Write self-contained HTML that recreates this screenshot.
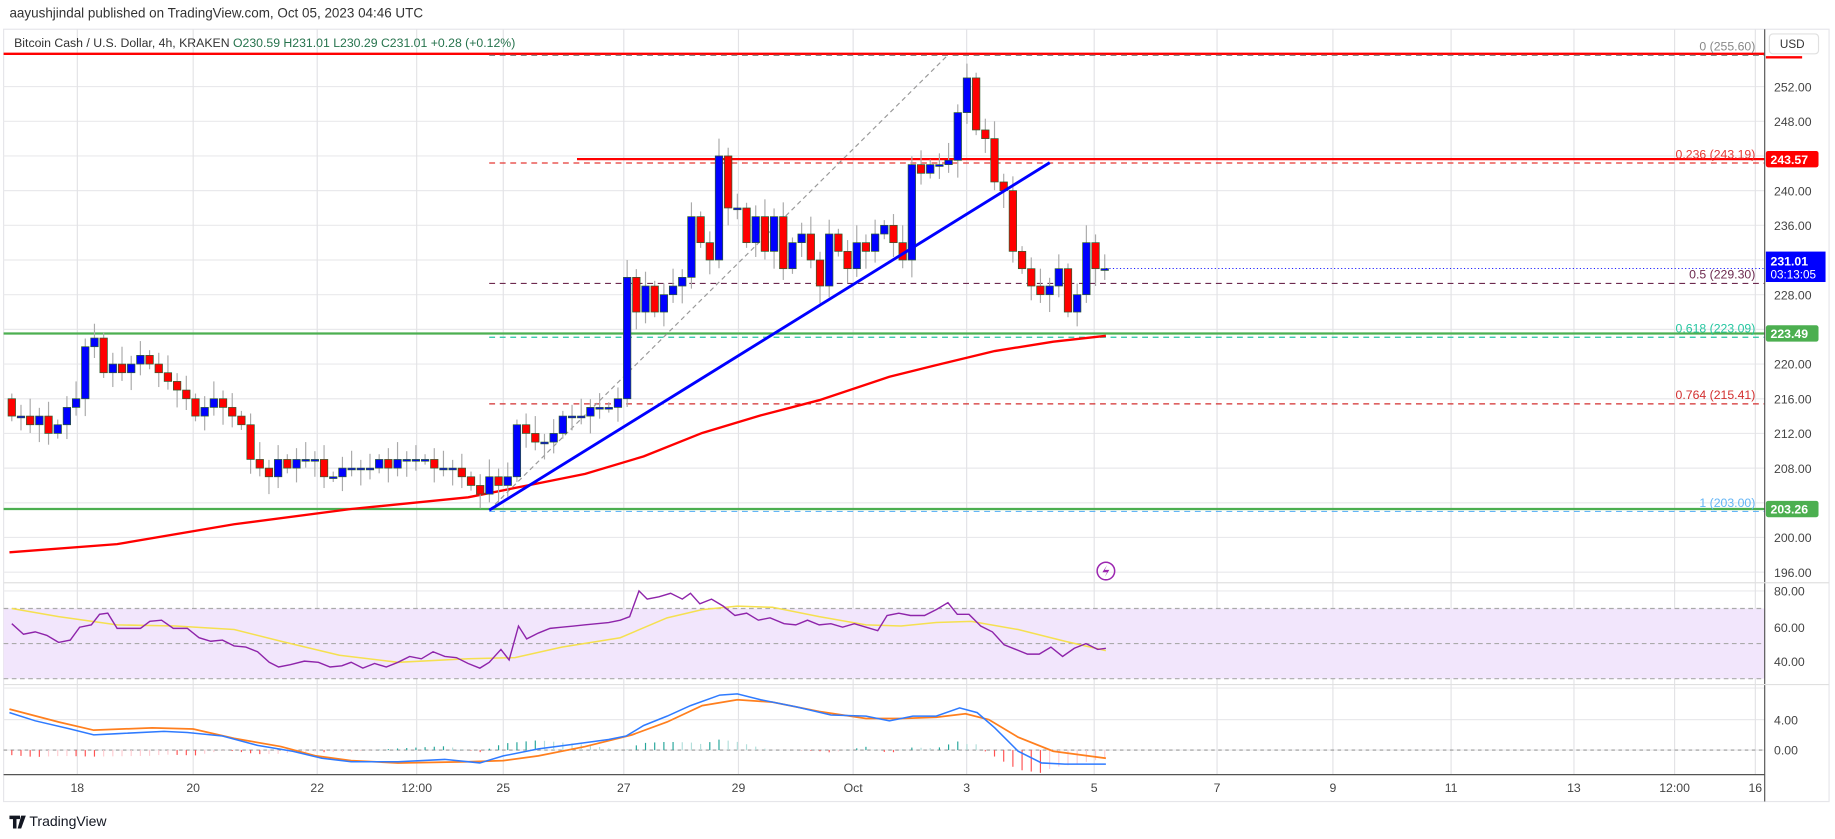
<!DOCTYPE html>
<html><head><meta charset="utf-8"><style>
html,body{margin:0;padding:0;background:#fff;width:1835px;height:839px;overflow:hidden}
svg{display:block}
text{font-family:"Liberation Sans",sans-serif}
</style></head><body>
<svg id="s" width="1835" height="839" viewBox="0 0 1568 717" xmlns="http://www.w3.org/2000/svg">
<rect x="0" y="0" width="1568" height="717" fill="#fff"/>
<text x="8" y="15" font-size="11.5" fill="#333">aayushjindal published on TradingView.com, Oct 05, 2023 04:46 UTC</text>
<rect x="3" y="25" width="1560" height="660" fill="none" stroke="#e6e6ea" stroke-width="1"/>
<g id="grid"></g>
<rect x="3" y="520" width="1505" height="60" fill="#f2e6fc"/>
<g id="main"></g>
<line x1="1508" y1="25" x2="1508" y2="685" stroke="#555" stroke-width="1"/>
<line x1="3" y1="498" x2="1563" y2="498" stroke="#e0e0e0"/>
<line x1="3" y1="585" x2="1563" y2="585" stroke="#e0e0e0"/>
<line x1="3" y1="662" x2="1508" y2="662" stroke="#555"/>
<text x="12" y="40" font-size="10.5" fill="#333">Bitcoin Cash / U.S. Dollar, 4h, KRAKEN <tspan fill="#26734d">O230.59 H231.01 L230.29 C231.01 +0.28 (+0.12%)</tspan></text>
<g id="axis" font-size="10.5" fill="#444"></g>
<rect x="1512" y="29" width="42" height="17" rx="3" fill="#fff" stroke="#e0e0e0"/>
<text x="1521" y="41" font-size="10" fill="#333">USD</text>
<circle cx="945" cy="488" r="7.5" fill="none" stroke="#9c27b0" stroke-width="1.3"/>
<path d="M946 483 L942 489 L946 489 L944 493 L948 487 L944 487 Z" fill="#9c27b0"/>
<path d="M8 697 h9 v3 h-3 v8 h-3 v-8 h-3 z M18 697 h4 l-4 11 h-3 z" fill="#131722"/>
<text x="25" y="706" font-size="12" fill="#131722">TradingView</text>
</svg>
<script>
const NS="http://www.w3.org/2000/svg";
function el(p,t,a,txt){const e=document.createElementNS(NS,t);for(const k in a)e.setAttribute(k,a[k]);if(txt!=null)e.textContent=txt;p.appendChild(e);return e;}
const grid=document.getElementById('grid'),main=document.getElementById('main'),axis=document.getElementById('axis');
const py=p=>74+(252-p)*7.41;
for(let p=196;p<=252;p+=4){el(grid,'line',{x1:3,x2:1508,y1:py(p),y2:py(p),stroke:'#e9e9ec'});}
[505,536,565].forEach(y=>el(grid,'line',{x1:3,x2:1508,y1:y,y2:y,stroke:'#e9e9ec'}));
[588,615,641].forEach(y=>el(grid,'line',{x1:3,x2:1508,y1:y,y2:y,stroke:'#e9e9ec'}));
const tl=[[66,'18'],[165,'20'],[271,'22'],[356,'12:00'],[430,'25'],[533,'27'],[631,'29'],[729,'Oct'],[826,'3'],[935,'5'],[1040,'7'],[1139,'9'],[1240,'11'],[1345,'13'],[1431,'12:00'],[1500,'16']];
tl.forEach(([x,t])=>{el(grid,'line',{x1:x,x2:x,y1:25,y2:662,stroke:'#e3e3e6'});el(axis,'text',{x:x,y:677,'text-anchor':'middle'},t);});
for(let p=196;p<=252;p+=4){if(p==204||p==232||p==224||p==244)continue;el(axis,'text',{x:1516,y:py(p)+4},p.toFixed(2));}
[[505,'80.00'],[536,'60.00'],[565,'40.00'],[615,'4.00'],[641,'0.00']].forEach(([y,t])=>el(axis,'text',{x:1516,y:y+4},t));
[520,550,580].forEach(y=>el(main,'line',{x1:3,x2:1508,y1:y,y2:y,stroke:'#aaa','stroke-dasharray':'4 3'}));
el(main,'line',{x1:3,x2:1508,y1:641,y2:641,stroke:'#999','stroke-dasharray':'3 3'});
el(main,'line',{x1:3,x2:1508,y1:46,y2:46,stroke:'#f00','stroke-width':2});
el(main,'line',{x1:493,x2:1508,y1:136,y2:136,stroke:'#f00','stroke-width':2});
el(main,'line',{x1:3,x2:1508,y1:285,y2:285,stroke:'#4caf50','stroke-width':2});
el(main,'line',{x1:3,x2:1508,y1:435,y2:435,stroke:'#4caf50','stroke-width':2});
const fib=[[255.6,'0 (255.60)','#888'],[243.19,'0.236 (243.19)','#e53935'],[229.3,'0.5 (229.30)','#6d2a4f'],[223.09,'0.618 (223.09)','#26c6a0'],[215.41,'0.764 (215.41)','#d32f2f'],[203,'1 (203.00)','#64b5f6']];
fib.forEach(([p,t,c])=>{const y=py(p);el(main,'line',{x1:418,x2:1508,y1:y,y2:y,stroke:c,'stroke-dasharray':'5 4'});el(main,'text',{x:1500,y:y-4,'text-anchor':'end','font-size':10.5,fill:c},t);});
el(main,'line',{x1:418,y1:436,x2:810,y2:47,stroke:'#999','stroke-dasharray':'4 3'});
const ma=[[8,472],[100,465],[200,448],[300,435],[400,425],[450,415],[500,405],[550,390],[600,370],[650,355],[700,342],[760,322],[800,312],[850,300],[900,292],[945,287]];
el(main,'polyline',{points:ma.map(p=>p.join(',')).join(' '),fill:'none',stroke:'#f00','stroke-width':2});
const C=[214,214,213,214,212,213,215,216,222,223,219,220,219,220,221,220,219,218,217,216,214,215,216,215,214,213,209,208,207,209,208,209,209,209,207,207,208,208,208,208,209,208,209,209,209,209,208,208,208,207,206,205,207,206,207,213,212,211,211,212,214,214,214,215,215,215,216,230,226,229,226,228,229,230,237,234,232,244,238,238,234,237,233,237,231,234,235,232,229,235,233,231,234,233,235,236,234,232,243,242,243,243,243.5,249,253,247,246,241,240,233,231,229,228,229,231,226,228,234,231,231];
let o=216;const n=C.length,dx=(944-10)/(n-1);
C.forEach((c,i)=>{const x=10+i*dx;const hi=Math.max(o,c)+0.6+((i*7)%5)*0.35,lo=Math.min(o,c)-0.6-((i*3)%5)*0.35;
el(main,'line',{x1:x,x2:x,y1:py(hi),y2:py(lo),stroke:'#aaa'});
const t=py(Math.max(o,c)),b=py(Math.min(o,c));
el(main,'rect',{x:x-3.2,y:t,width:6.4,height:Math.max(1.5,b-t),fill:c>=o?'#0000ff':'#ff0000',stroke:'#2e5d2e','stroke-width':0.6});o=c;});
el(main,'line',{x1:418,y1:436,x2:897,y2:139,stroke:'#0000ff','stroke-width':2.5});
const rsi=[[10,533],[20,542],[30,540],[40,543],[50,549],[60,547],[68,536],[78,534],[85,525],[92,524],[100,537],[110,537],[120,537],[128,531],[138,530],[148,537],[160,537],[170,545],[180,548],[190,547],[200,552],[210,553],[220,557],[230,566],[238,570],[248,568],[260,565],[272,566],[282,570],[292,569],[300,566],[310,571],[320,567],[330,570],[340,566],[350,561],[360,563],[370,557],[380,561],[390,562],[400,567],[410,571],[418,566],[428,555],[435,564],[443,535],[450,546],[460,541],[470,537],[480,536],[490,535],[500,534],[510,533],[520,532],[530,530],[538,527],[546,505],[553,512],[563,510],[573,507],[583,512],[590,507],[598,516],[608,512],[618,518],[628,526],[638,524],[648,530],[658,528],[670,533],[680,534],[690,530],[700,534],[710,533],[720,536],[730,533],[740,536],[750,539],[758,526],[768,524],[778,526],[790,526],[800,521],[810,515],[818,525],[828,525],[838,535],[848,540],[858,551],[868,555],[878,559],[888,559],[898,553],[908,561],[918,554],[928,550],[938,555],[945,554]];
const rma=[[10,520],[50,527],[100,534],[150,535],[200,538],[240,548],[290,560],[340,566],[400,563],[440,562],[480,553],[530,545],[570,528],[600,521],[630,518],[660,519],[700,527],[740,534],[770,535],[800,532],[830,531],[870,538],[910,548],[945,556]];
el(main,'polyline',{points:rma.map(p=>p.join(',')).join(' '),fill:'none',stroke:'#f5e050','stroke-width':1.3});
el(main,'polyline',{points:rsi.map(p=>p.join(',')).join(' '),fill:'none',stroke:'#8e24aa','stroke-width':1.2});
const mb=[[8,609],[30,616],[60,623],[80,628],[100,627],[140,625],[160,626],[190,629],[220,637],[250,642],[275,648],[300,651],[340,651],[380,649],[410,652],[430,646],[460,640],[490,636],[520,632],[535,629],[550,620],[570,612],[590,603],[615,594],[630,593],[650,598],[680,604],[710,611],[740,612],[760,616],[780,612],[800,612],[820,605],[835,609],[850,622],[870,642],[890,652],[910,653],[945,653]];
const mo=[[8,606],[50,617],[80,624],[130,622],[165,623],[200,631],[240,638],[270,646],[300,650],[340,652],[400,651],[430,650],[460,646],[500,638],[540,628],[570,617],[600,603],[630,598],[660,600],[700,608],[740,614],[770,614],[800,613],[825,610],[845,615],[870,630],[900,642],[945,648]];
function interp(a,x){for(let i=1;i<a.length;i++){if(x<=a[i][0]){const t=(x-a[i-1][0])/(a[i][0]-a[i-1][0]);return a[i-1][1]+t*(a[i][1]-a[i-1][1]);}}return a[a.length-1][1];}
let prev=0;
for(let i=0;i<n;i++){const x=10+i*dx;const d=(interp(mo,x)-interp(mb,x))*1.4;const col=d>=0?(d>=prev?'#26a69a':'#b2dfdb'):(d<=prev?'#ff5252':'#ffcdd2');prev=d;
el(main,'line',{x1:x,x2:x,y1:641,y2:641-d,stroke:col,'stroke-width':1});}
el(main,'polyline',{points:mo.map(p=>p.join(',')).join(' '),fill:'none',stroke:'#ff7f1e','stroke-width':1.5});
el(main,'polyline',{points:mb.map(p=>p.join(',')).join(' '),fill:'none',stroke:'#2f7bff','stroke-width':1.3});
function tag(y,c,h){el(axis,'rect',{x:1509,y:y-(h||14)/2,width:45,height:h||14,rx:2,fill:c});}
tag(136,'#f00');el(axis,'text',{x:1513,y:140,fill:'#fff','font-weight':'bold'},'243.57');
tag(285,'#4caf50');el(axis,'text',{x:1513,y:289,fill:'#fff','font-weight':'bold'},'223.49');
tag(435,'#4caf50');el(axis,'text',{x:1513,y:439,fill:'#fff','font-weight':'bold'},'203.26');
el(axis,'rect',{x:1509,y:215,width:51,height:26,fill:'#0000ff'});
el(axis,'text',{x:1513,y:227,fill:'#fff','font-weight':'bold'},'231.01');
el(axis,'text',{x:1513,y:238,fill:'#fff','font-size':10},'03:13:05');
el(main,'line',{x1:945,x2:1508,y1:py(231.01),y2:py(231.01),stroke:'#0000ff','stroke-dasharray':'1 2','stroke-width':0.8});
el(axis,'line',{x1:1509,x2:1540,y1:49,y2:49,stroke:'#f00','stroke-width':2});
</script>
</body></html>
